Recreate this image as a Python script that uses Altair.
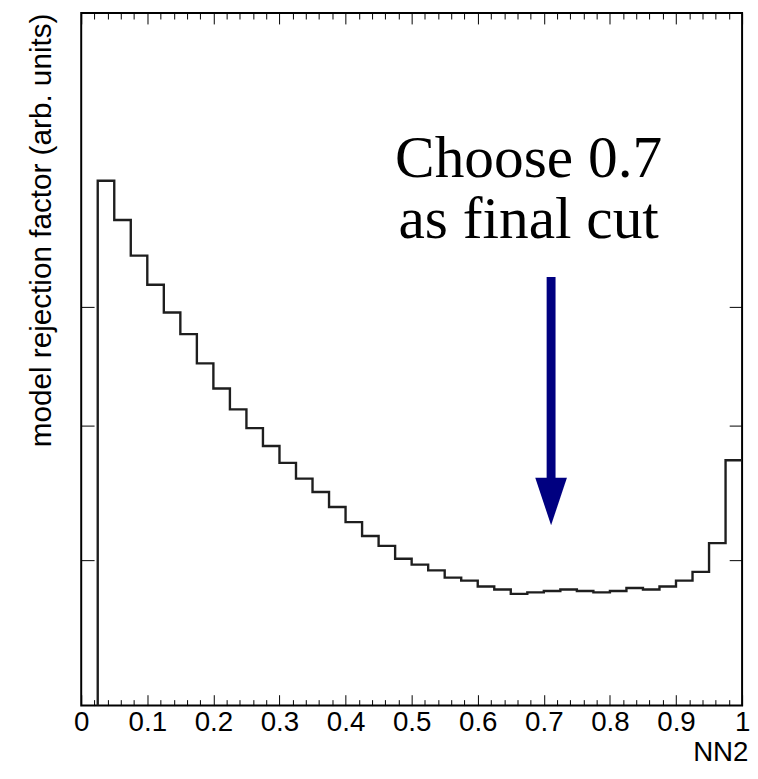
import altair as alt
import pandas as pd

# ---- data ----
nn2_edges = [0.000, 0.025, 0.050, 0.075, 0.100, 0.125, 0.150, 0.175, 0.200, 0.225,
             0.250, 0.275, 0.300, 0.325, 0.350, 0.375, 0.400, 0.425, 0.450, 0.475,
             0.500, 0.525, 0.550, 0.575, 0.600, 0.625, 0.650, 0.675, 0.700, 0.725,
             0.750, 0.775, 0.800, 0.825, 0.850, 0.875, 0.900, 0.925, 0.950, 0.975, 1.000]
bin_content = [0, 10.20, 9.81, 9.47, 9.20, 8.95, 8.76, 8.51, 8.30, 8.13,
               7.98, 7.84, 7.71, 7.59, 7.49, 7.38, 7.27, 7.17, 7.10, 7.01,
               6.97, 6.93, 6.88, 6.86, 6.82, 6.80, 6.77, 6.78, 6.79, 6.80,
               6.79, 6.78, 6.79, 6.81, 6.80, 6.82, 6.86, 6.92, 7.12, 7.73]

x_major_ticks = [0, 0.1, 0.2, 0.3, 0.4, 0.5, 0.6, 0.7, 0.8, 0.9, 1]
x_minor_ticks = [0.02, 0.04, 0.06, 0.08, 0.12, 0.14, 0.16, 0.18, 0.22, 0.24, 0.26, 0.28,
                 0.32, 0.34, 0.36, 0.38, 0.42, 0.44, 0.46, 0.48, 0.52, 0.54, 0.56, 0.58,
                 0.62, 0.64, 0.66, 0.68, 0.72, 0.74, 0.76, 0.78, 0.82, 0.84, 0.86, 0.88,
                 0.92, 0.94, 0.96, 0.98]
y_ticks = [7, 8, 9]
y_domain = [6.06, 12.046]
log_floor = 1.0  # empty bin drawn below the visible range

annotation_text = ["Choose 0.7\nas final cut"]
annotation_x = [0.677]
annotation_y = [10.24]
arrow_x = [0.711]
arrow_top = [9.27]
arrow_base = [7.58]
arrow_mid = [7.42]

# ---- tables ----
rows = []
for i, e in enumerate(nn2_edges):
    c = bin_content[min(i, len(bin_content) - 1)]
    rows.append({"nn2": e, "factor": c if c > 0 else log_floor})
hist = pd.DataFrame(rows)
arrow_df = pd.DataFrame({"x": arrow_x, "y_top": arrow_top, "y_base": arrow_base, "y_mid": arrow_mid})
text_df = pd.DataFrame({"x": annotation_x, "y": annotation_y, "label": annotation_text})

W, H = 668, 700
xs = alt.Scale(domain=[0, 1], nice=False, zero=False)
ys = alt.Scale(type="log", domain=y_domain, nice=False)


def tick_axis(orient, offset, values, size):
    return alt.Axis(orient=orient, offset=offset, values=values, tickSize=size,
                    tickColor="black", tickWidth=1, labels=False, domain=False,
                    grid=False, title="")


label_axis = alt.Axis(orient="bottom", values=x_major_ticks, format="~g", ticks=False,
                      tickSize=0, domain=False, grid=False,
                      labelFont="Liberation Sans", labelFontSize=28, labelColor="black",
                      labelPadding=3, labelFlush=False, labelOverlap=False,
                      title="NN2", titleFont="Liberation Sans", titleFontSize=28,
                      titleFontWeight="normal", titleColor="black", titleAnchor="end",
                      titleAlign="right", titleBaseline="alphabetic", titleX=W + 6, titleY=56)
title_axis = alt.Axis(orient="left", ticks=False, tickSize=0, labels=False, domain=False,
                      grid=False, title="model rejection factor (arb. units)",
                      titleFont="Liberation Sans", titleFontSize=30, titleFontWeight="normal",
                      titleColor="black", titleAnchor="end", titleAngle=270,
                      titleAlign="right", titleBaseline="bottom", titleX=-25, titleY=0)

base = alt.Chart(hist)
line = base.mark_line(interpolate="step-after", color="#1e1e1e", strokeWidth=2.4, clip=True).encode(
    x=alt.X("nn2:Q", scale=xs, axis=label_axis),
    y=alt.Y("factor:Q", scale=ys, axis=title_axis),
)
t1 = base.mark_line(opacity=0).encode(
    x=alt.X("nn2:Q", scale=xs, axis=tick_axis("top", -H, x_major_ticks, 11)),
    y=alt.Y("factor:Q", scale=ys, axis=tick_axis("right", -W, y_ticks, 13)),
)
t2 = base.mark_line(opacity=0).encode(
    x=alt.X("nn2:Q", scale=xs, axis=tick_axis("top", -H, x_minor_ticks, 6)),
    y=alt.Y("factor:Q", scale=ys, axis=tick_axis("left", -W, y_ticks, 13)),
)
t3 = base.mark_line(opacity=0).encode(
    x=alt.X("nn2:Q", scale=xs, axis=tick_axis("bottom", -H, x_major_ticks, 11)),
    y=alt.Y("factor:Q", scale=ys, axis=None),
)
t4 = base.mark_line(opacity=0).encode(
    x=alt.X("nn2:Q", scale=xs, axis=tick_axis("bottom", -H, x_minor_ticks, 6)),
    y=alt.Y("factor:Q", scale=ys, axis=None),
)
shaft = alt.Chart(arrow_df).mark_rule(color="#000080", strokeWidth=9).encode(
    x=alt.X("x:Q", scale=xs, axis=None),
    y=alt.Y("y_top:Q", scale=ys, axis=None),
    y2="y_base:Q",
)
head = alt.Chart(arrow_df).mark_point(shape="M-0.667,-1L0.667,-1L0,1Z", filled=True,
                                      size=2304, color="#000080", opacity=1).encode(
    x=alt.X("x:Q", scale=xs, axis=None),
    y=alt.Y("y_mid:Q", scale=ys, axis=None),
)
text = alt.Chart(text_df).mark_text(font="Liberation Serif", fontSize=60, lineBreak="\n",
                                    lineHeight=62, align="center", baseline="alphabetic",
                                    color="black").encode(
    x=alt.X("x:Q", scale=xs, axis=None),
    y=alt.Y("y:Q", scale=ys, axis=None),
    text="label:N",
)

chart = alt.layer(line, t1, t2, t3, t4, shaft, head, text).resolve_axis(
    x="independent", y="independent"
).properties(
    width=W, height=H,
    autosize=alt.AutoSizeParams(type="none"),
    padding={"left": 74, "top": 1, "right": 8, "bottom": 62},
    background="white",
).configure_view(stroke="black", strokeWidth=2)

chart.save("out.html", embed_options={"renderer": "svg", "actions": False})
